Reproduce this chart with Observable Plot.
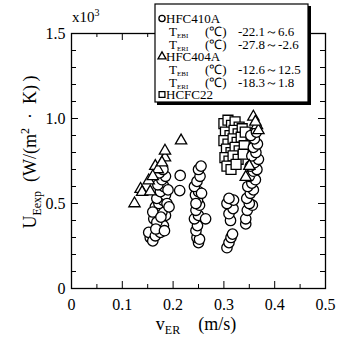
<!DOCTYPE html>
<html><head><meta charset="utf-8">
<script src="https://cdn.jsdelivr.net/npm/d3@7"></script>
<script src="https://cdn.jsdelivr.net/npm/@observablehq/plot@0.6"></script>
<style>body{margin:0;background:#fff}#c{width:337px;height:337px}</style>
</head><body><div id="c"></div>
<script>
// ---- tick values ----
const xTicks = [0, 0.1, 0.2, 0.3, 0.4, 0.5];
const xMinor = [0.05, 0.15, 0.25, 0.35, 0.45];
const yTicks = [0, 0.5, 1.0, 1.5];
const yMinor = [0.1, 0.2, 0.3, 0.4, 0.6, 0.7, 0.8, 0.9, 1.1, 1.2, 1.3, 1.4];

// ---- HFC410A (circles) : v_ER (m/s), U (x10^3 W/(m2K)) ----
const hfc410aV = [0.155,0.152,0.160,0.165,0.175,0.172,0.181,0.162,0.168,0.185,0.178,0.165,0.172,0.180,0.168,0.185,0.175,0.182,0.170,0.178,0.185,0.173,0.180,0.190,0.188,0.160,0.176,0.192,0.166,0.183,
  0.214,0.213,
  0.250,0.247,0.252,0.245,0.248,0.242,0.250,0.264,0.245,0.252,0.248,0.244,0.250,0.242,0.247,0.253,0.250,0.255,0.245,0.256,
  0.306,0.310,0.314,0.317,0.313,0.310,0.318,0.306,0.319,0.310,
  0.343,0.343,0.346,0.356,0.350,0.345,0.352,0.358,0.347,0.355,0.362,0.350,0.358,0.365,0.352,0.360,0.368,0.355,0.363,0.358,0.366,0.360,0.353,0.364];
const hfc410aU = [0.30,0.33,0.28,0.31,0.33,0.36,0.37,0.41,0.39,0.43,0.45,0.48,0.50,0.52,0.53,0.55,0.57,0.60,0.61,0.64,0.66,0.68,0.70,0.58,0.50,0.45,0.42,0.48,0.35,0.34,
  0.665,0.576,
  0.27,0.30,0.29,0.34,0.37,0.41,0.43,0.41,0.46,0.49,0.52,0.55,0.57,0.60,0.63,0.66,0.70,0.72,0.50,0.56,
  0.24,0.27,0.30,0.32,0.40,0.44,0.47,0.50,0.52,0.53,
  0.38,0.41,0.46,0.49,0.50,0.53,0.56,0.58,0.60,0.62,0.64,0.66,0.69,0.70,0.72,0.74,0.76,0.78,0.80,0.83,0.85,0.88,0.90,0.92];

// ---- HFC404A (triangles) ----
const hfc404aV = [0.124,0.136,0.139,0.155,0.152,0.165,0.170,0.184,0.184,0.2157,0.178,0.160,0.358,0.365,0.368,0.343,0.362,0.350];
const hfc404aU = [0.50,0.585,0.567,0.57,0.635,0.72,0.70,0.77,0.81,0.87,0.74,0.66,1.01,0.96,0.93,0.655,0.98,0.72];

// ---- HCFC22 (squares) ----
const hcfc22V = [0.300,0.308,0.315,0.322,0.330,0.303,0.312,0.320,0.328,0.336,0.300,0.308,0.318,0.326,0.334,0.305,0.314,0.322,0.330,0.340,0.302,0.310,0.318,0.328,0.306,0.314,0.324,0.338,0.342];
const hcfc22U = [0.97,0.99,0.96,0.98,0.95,0.92,0.90,0.93,0.91,0.94,0.87,0.85,0.88,0.86,0.89,0.82,0.80,0.83,0.81,0.84,0.77,0.75,0.78,0.76,0.72,0.70,0.73,0.79,0.92];

// ---- legend text ----
const legendNames = ["HFC410A", "HFC404A", "HCFC22"];
const legendSubs = ["EBI", "ERI"];
const legendRanges = [["-22.1～6.6", "-27.8～-2.6"], ["-12.6～12.5", "-18.3～1.8"]];

const toRows = (xs, ys) => xs.map((x, i) => ({x, y: ys[i]}));
const c410 = toRows(hfc410aV, hfc410aU);
const c404 = toRows(hfc404aV, hfc404aU);
const c22 = toRows(hcfc22V, hcfc22U);

const fmt = d => d === 0 ? "0" : d.toFixed(1);
const FONT = "Liberation Serif";
const dotStyle = {fill: "white", stroke: "black", strokeWidth: 1.3};
const W = 337, H = 337, ML = 71, MR = 12, MT = 33, MB = 49;
const FW = W - ML - MR, FH = H - MT - MB;

const plot = Plot.plot({
  width: W, height: H,
  marginLeft: ML, marginRight: MR, marginTop: MT, marginBottom: MB,
  x: {domain: [0, 0.5]},
  y: {domain: [0, 1.5]},
  style: {fontFamily: FONT, fontSize: "16px", color: "black", background: "white"},
  marks: [
    Plot.dot(c22, {x: "x", y: "y", symbol: "square", r: 5.6, ...dotStyle}),
    Plot.dot(c410, {x: "x", y: "y", symbol: "circle", r: 5.2, ...dotStyle}),
    Plot.dot(c404, {x: "x", y: "y", symbol: "triangle", r: 4.2, ...dotStyle}),
    // inward ticks (bottom / top / left / right)
    Plot.ruleX(xTicks, {x: d => d, insetTop: FH - 7, stroke: "black"}),
    Plot.ruleX(xMinor, {x: d => d, insetTop: FH - 4, stroke: "black"}),
    Plot.ruleX(xTicks, {x: d => d, insetBottom: FH - 7, stroke: "black"}),
    Plot.ruleX(xMinor, {x: d => d, insetBottom: FH - 4, stroke: "black"}),
    Plot.ruleY(yTicks, {y: d => d, insetRight: FW - 7, stroke: "black"}),
    Plot.ruleY(yMinor, {y: d => d, insetRight: FW - 5, stroke: "black"}),
    Plot.ruleY(yTicks, {y: d => d, insetLeft: FW - 7, stroke: "black"}),
    Plot.ruleY(yMinor, {y: d => d, insetLeft: FW - 5, stroke: "black"}),
    Plot.frame({stroke: "black", strokeWidth: 1.3}),
    Plot.axisX(xTicks, {anchor: "bottom", tickSize: 0, tickPadding: 10, tickFormat: fmt, label: null}),
    Plot.axisY(yTicks, {anchor: "left", tickSize: 0, tickPadding: 6, tickFormat: fmt, label: null})
  ]
});
document.getElementById("c").appendChild(plot);

const svg = d3.select(plot);
const txt = (parent, x, y, size, anchor = "start") => parent.append("text")
  .attr("x", x).attr("y", y).attr("font-size", size).attr("fill", "black")
  .attr("text-anchor", anchor).attr("font-family", FONT);

// x10^3 multiplier
const mult = txt(svg, 72, 22, 15);
mult.append("tspan").text("x10");
mult.append("tspan").attr("dy", -6).attr("font-size", 10).text("3");

// y label
const yl = svg.append("text").attr("transform", "translate(36,152) rotate(-90)")
  .attr("text-anchor", "middle").attr("font-size", 18).attr("fill", "black").attr("font-family", FONT);
yl.append("tspan").text("U");
yl.append("tspan").attr("dy", 5).attr("font-size", 12).text("Eexp");
yl.append("tspan").attr("dy", -5).attr("xml:space", "preserve").text("\u2002(W/(m");
yl.append("tspan").attr("dy", -7).attr("font-size", 12).text("2");
yl.append("tspan").attr("dy", 7).text("\u2002·\u2002K)\u2009)");

// x label
const xl = txt(svg, 196, 330, 18, "middle");
xl.append("tspan").text("v");
xl.append("tspan").attr("dy", 4).attr("font-size", 12).text("ER");
xl.append("tspan").attr("dy", -4).text("\u2003(m/s)");

// legend box
const lg = svg.append("g");
lg.append("rect").attr("x", 157).attr("y", 6).attr("width", 154).attr("height", 99).attr("fill", "black");
lg.append("rect").attr("x", 155).attr("y", 4).attr("width", 153).attr("height", 98)
  .attr("fill", "white").attr("stroke", "black").attr("stroke-width", 1.2);
const symTypes = [d3.symbolCircle, d3.symbolTriangle, d3.symbolSquare];
const nameY = [23, 61, 99];
const symSize = [30, 28, 34];
legendNames.forEach((n, i) => {
  lg.append("path").attr("d", d3.symbol(symTypes[i], symSize[i])())
    .attr("transform", `translate(162,${nameY[i] - 4.5})`)
    .attr("fill", "white").attr("stroke", "black").attr("stroke-width", 1.3);
  txt(lg, 166, nameY[i], 13).text(n);
});
legendRanges.forEach((pair, i) => {
  pair.forEach((r, j) => {
    const y = nameY[i] + 13 + j * 12.5;
    const t = txt(lg, 169, y, 13);
    t.append("tspan").text("T");
    t.append("tspan").attr("dy", 2).attr("font-size", 7).text(legendSubs[j]);
    txt(lg, 205, y, 13).text("(℃)");
    txt(lg, 238, y, 13).text(r);
  });
});
</script>
</body></html>
